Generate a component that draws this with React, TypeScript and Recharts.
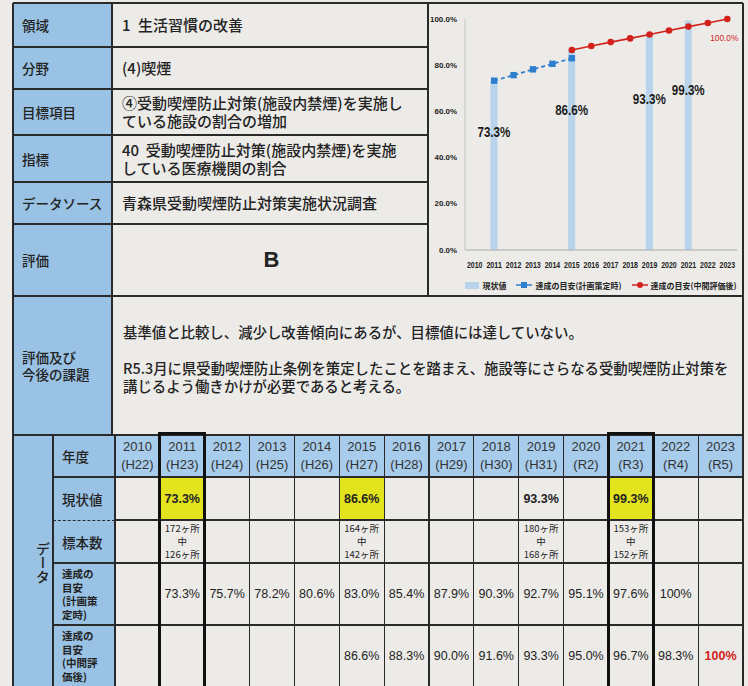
import React from "react";
import { ComposedChart, Bar, Line, XAxis, YAxis, LabelList, Legend } from "recharts";

const years = ["2010", "2011", "2012", "2013", "2014", "2015", "2016", "2017", "2018", "2019", "2020", "2021", "2022", "2023"];
const eraLabels = ["H22", "H23", "H24", "H25", "H26", "H27", "H28", "H29", "H30", "H31", "R2", "R3", "R4", "R5"];
const currentValues = [null, 73.3, null, null, null, 86.6, null, null, null, 93.3, null, 99.3, null, null];
const planTargets = [null, 73.3, 75.7, 78.2, 80.6, 83.0, 85.4, 87.9, 90.3, 92.7, 95.1, 97.6, 100, null];
const midTargets = [null, null, null, null, null, 86.6, 88.3, 90.0, 91.6, 93.3, 95.0, 96.7, 98.3, 100];
const sampleCounts = [
  null, ["172ヶ所", "中", "126ヶ所"], null, null, null, ["164ヶ所", "中", "142ヶ所"],
  null, null, null, ["180ヶ所", "中", "168ヶ所"], null, ["153ヶ所", "中", "152ヶ所"], null, null,
];
const highlightYears = ["2011", "2015", "2021"];
const boxedYears = ["2011", "2021"];
const yTicks = [0, 20, 40, 60, 80, 100];
// chart shows the plan line only until the mid-term review year
const planShownUntil = "2015";

const FONT_JP = "'Noto Sans CJK JP', 'Noto Sans', sans-serif";
const FONT_NUM = "'Liberation Sans', Arial, 'Noto Sans CJK JP', sans-serif";

const PAPER = "#ecebe8";
const LABEL_BLUE = "#99c2e4";
const HEAD_BLUE = "#a8cceb";
const YELLOW = "#e4e41e";
const INK = "#232323";
const BAR_BLUE = "#b7d4ec";
const PLAN_BLUE = "#2f7fcf";
const MID_RED = "#d3221c";

const chartData = years.map((year, i) => ({
  year,
  current: currentValues[i],
  plan: i <= years.indexOf(planShownUntil) ? planTargets[i] : null,
  mid: midTargets[i],
}));

const fmtPct = (v: number | null) => (v == null ? "" : v === 100 ? "100%" : `${v.toFixed(1)}%`);

// table geometry
const colStart = 115;
const colW = (743 - 115) / years.length;
const colX = (i: number) => colStart + i * colW;
const topRows = [3, 47, 89, 135, 182, 224, 296];
const dataRows = [435, 477, 520, 563, 625, 690];

function Box({ x, y, w, h, bg, children, style }: any) {
  return (
    <div
      style={{
        position: "absolute",
        left: x,
        top: y,
        width: w,
        height: h,
        background: bg,
        boxSizing: "border-box",
        ...style,
      }}
    >
      {children}
    </div>
  );
}

const HLine = ({ x1, x2, y, t = 2, color = "#2a2a2a", dashed = false }: any) => (
  <div
    style={{
      position: "absolute",
      left: x1,
      top: y - t / 2,
      width: x2 - x1,
      height: dashed ? 0 : t,
      background: dashed ? "transparent" : color,
      borderTop: dashed ? `${t}px dashed ${color}` : undefined,
    }}
  />
);
const VLine = ({ x, y1, y2, t = 1.5, color = "#2a2a2a" }: any) => (
  <div style={{ position: "absolute", left: x - t / 2, top: y1, width: t, height: y2 - y1, background: color }} />
);

// squeezed text to imitate the narrow font of the original chart
function NarrowText({ x, y, anchor, size, width, children, ...rest }: any) {
  return (
    <text
      x={x}
      y={y}
      textAnchor={anchor}
      fontSize={size}
      fontFamily={FONT_NUM}
      textLength={width}
      lengthAdjust="spacingAndGlyphs"
      {...rest}
    >
      {children}
    </text>
  );
}

const XTick = ({ x, y, payload }: any) => (
  <NarrowText x={x} y={y} dy="0.71em" anchor="middle" size={8.5} width={15.5} fontWeight={700} fill={INK}>
    {payload.value}
  </NarrowText>
);

const YTick = ({ x, y, payload }: any) => {
  const s = `${Number(payload.value).toFixed(1)}%`;
  return (
    <NarrowText x={x} y={y} dy="0.35em" anchor="end" size={7.5} width={s.length * 4.5} fontWeight={700} fill={INK}>
      {s}
    </NarrowText>
  );
};

function renderBarLabel(props: any) {
  const { x, y, width, height, value } = props;
  if (value == null) return null;
  return (
    <NarrowText
      x={x + width / 2}
      y={y + height * 0.3}
      dy="0.36em"
      anchor="middle"
      size={14.5}
      width={33}
      fontWeight={700}
      fill="#1c1c1c"
    >
      {`${value.toFixed(1)}%`}
    </NarrowText>
  );
}

function renderEndLabel(props: any) {
  const { x, y, value, index } = props;
  if (value == null || index !== years.length - 1) return null;
  return (
    <NarrowText x={x + 11} y={y + 22} anchor="end" size={9.5} width={28} fill={MID_RED}>
      {`${value.toFixed(1)}%`}
    </NarrowText>
  );
}

function renderSquare(props: any) {
  const { cx, cy, index } = props;
  if (cx == null || cy == null) return <g key={`sq-${index}`} />;
  return <rect key={`sq-${index}`} x={cx - 3.2} y={cy - 3.2} width={6.4} height={6.4} fill={PLAN_BLUE} />;
}

function renderLegend() {
  const txt: React.CSSProperties = { fontSize: 8, fontWeight: 700, color: INK, fontFamily: FONT_JP, marginLeft: 3 };
  return (
    <div style={{ height: 22, display: "flex", alignItems: "center", justifyContent: "center", gap: 10 }}>
      <span style={{ display: "flex", alignItems: "center" }}>
        <span style={{ width: 14, height: 7, background: BAR_BLUE, display: "inline-block" }} />
        <span style={txt}>現状値</span>
      </span>
      <span style={{ display: "flex", alignItems: "center" }}>
        <svg width={16} height={8}>
          <line x1={0} y1={4} x2={16} y2={4} stroke={PLAN_BLUE} strokeWidth={1.5} />
          <rect x={5} y={1} width={6} height={6} fill={PLAN_BLUE} />
        </svg>
        <span style={txt}>達成の目安(計画策定時)</span>
      </span>
      <span style={{ display: "flex", alignItems: "center" }}>
        <svg width={16} height={8}>
          <line x1={0} y1={4} x2={16} y2={4} stroke={MID_RED} strokeWidth={1.5} />
          <circle cx={8} cy={4} r={3} fill={MID_RED} />
        </svg>
        <span style={txt}>達成の目安(中間評価後)</span>
      </span>
    </div>
  );
}

function TrendChart() {
  return (
    <div style={{ position: "absolute", left: 427, top: 0 }}>
      <ComposedChart width={316} height={296} data={chartData} margin={{ top: 19, right: 6, bottom: 0, left: 0 }}>
        <XAxis
          dataKey="year"
          interval={0}
          tickLine={false}
          axisLine={{ stroke: "#aaaaaa" }}
          tick={<XTick />}
          height={24}
          tickMargin={6}
        />
        <XAxis xAxisId="frame" orientation="top" dataKey="year" tick={false} tickLine={false} axisLine={{ stroke: "#c4c4c4" }} height={0} />
        <YAxis domain={[0, 100]} ticks={yTicks} width={38} axisLine={{ stroke: "#c4c4c4" }} tickLine={false} tick={<YTick />} />
        <YAxis yAxisId="frame" orientation="right" domain={[0, 100]} width={0} tick={false} tickLine={false} axisLine={{ stroke: "#c4c4c4" }} />
        <Bar dataKey="current" barSize={7} fill={BAR_BLUE} isAnimationActive={false}>
          <LabelList dataKey="current" content={renderBarLabel} />
        </Bar>
        <Line
          dataKey="plan"
          stroke={PLAN_BLUE}
          strokeDasharray="4 3"
          strokeWidth={1.8}
          dot={renderSquare}
          activeDot={false}
          isAnimationActive={false}
        />
        <Line
          dataKey="mid"
          stroke={MID_RED}
          strokeWidth={1.6}
          dot={{ r: 3.3, fill: MID_RED, stroke: MID_RED, strokeWidth: 0 }}
          activeDot={false}
          isAnimationActive={false}
        >
          <LabelList dataKey="mid" content={renderEndLabel} />
        </Line>
        <Legend verticalAlign="bottom" height={22} content={renderLegend} wrapperStyle={{ left: 38, width: 272 }} />
      </ComposedChart>
    </div>
  );
}

const topLabels = ["領域", "分野", "目標項目", "指標", "データソース", "評価"];
const topContents: React.ReactNode[] = [
  "1\u2002生活習慣の改善",
  "(4)喫煙",
  <>④受動喫煙防止対策(施設内禁煙)を実施し<br />ている施設の割合の増加</>,
  <>40&nbsp;&nbsp;受動喫煙防止対策(施設内禁煙)を実施<br />している医療機関の割合</>,
  "青森県受動喫煙防止対策実施状況調査",
  null,
];

export default function App() {
  const labelText: React.CSSProperties = {
    fontFamily: FONT_JP,
    fontSize: 13.5,
    fontWeight: 500,
    color: INK,
    display: "flex",
    alignItems: "center",
    paddingLeft: 9,
    whiteSpace: "nowrap",
  };
  const contentText: React.CSSProperties = {
    fontFamily: FONT_JP,
    fontSize: 15,
    fontWeight: 500,
    color: INK,
    display: "flex",
    alignItems: "center",
    paddingLeft: 10,
    lineHeight: "18px",
    whiteSpace: "nowrap",
  };
  const numText: React.CSSProperties = {
    fontFamily: FONT_NUM,
    fontSize: 12.5,
    color: INK,
    display: "flex",
    alignItems: "center",
    justifyContent: "center",
    textAlign: "center",
  };
  const smallLabel: React.CSSProperties = {
    fontFamily: FONT_JP,
    fontSize: 10.5,
    fontWeight: 700,
    color: INK,
    lineHeight: "13.5px",
    display: "flex",
    alignItems: "center",
    paddingLeft: 9,
  };

  return (
    <div style={{ position: "absolute", left: 0, top: 0, width: 748, height: 686, background: PAPER, overflow: "hidden" }}>
      {/* top section */}
      {topLabels.map((lab, i) => (
        <React.Fragment key={lab}>
          <Box x={13} y={topRows[i]} w={99} h={topRows[i + 1] - topRows[i]} bg={LABEL_BLUE} style={labelText}>
            {lab}
          </Box>
          <Box x={112} y={topRows[i]} w={315} h={topRows[i + 1] - topRows[i]} style={contentText}>
            {topContents[i]}
          </Box>
        </React.Fragment>
      ))}
      <Box
        x={112}
        y={224}
        w={315}
        h={72}
        style={{ display: "flex", alignItems: "center", justifyContent: "center", fontFamily: FONT_NUM, fontWeight: 700, fontSize: 22, color: INK, paddingLeft: 4 }}
      >
        B
      </Box>
      <TrendChart />

      {/* evaluation section */}
      <Box x={13} y={296} w={99} h={139} bg={LABEL_BLUE} style={{ ...labelText, lineHeight: "17px" }}>
        評価及び<br />今後の課題
      </Box>
      <Box x={112} y={296} w={631} h={139} style={{ fontFamily: FONT_JP, fontSize: 14.4, fontWeight: 500, color: INK, whiteSpace: "nowrap" }}>
        <div style={{ position: "absolute", top: 25, left: 11 }}>基準値と比較し、減少し改善傾向にあるが、目標値には達していない。</div>
        <div style={{ position: "absolute", top: 63, left: 11, lineHeight: "18px" }}>
          R5.3月に県受動喫煙防止条例を策定したことを踏まえ、施設等にさらなる受動喫煙防止対策を
          <br />
          講じるよう働きかけが必要であると考える。
        </div>
      </Box>

      {/* data table */}
      <Box x={13} y={435} w={40} h={255} bg={LABEL_BLUE} />
      <div
        style={{
          position: "absolute",
          left: 13,
          top: 542,
          width: 40,
          display: "flex",
          justifyContent: "center",
          fontFamily: FONT_JP,
          fontSize: 14,
          fontWeight: 500,
          color: INK,
          writingMode: "vertical-rl",
        }}
      >
        データ
      </div>
      <Box x={53} y={435} w={62} h={255} bg={LABEL_BLUE} />
      <Box x={53} y={dataRows[0]} w={62} h={42} style={labelText}>年度</Box>
      <Box x={53} y={dataRows[1]} w={62} h={43} style={labelText}>現状値</Box>
      <Box x={53} y={dataRows[2]} w={62} h={43} style={labelText}>標本数</Box>
      <Box x={53} y={dataRows[3]} w={62} h={62} style={smallLabel}>
        <div>達成の<br />目安<br />(計画策<br />定時)</div>
      </Box>
      <Box x={53} y={dataRows[4]} w={62} h={62} style={smallLabel}>
        <div>達成の<br />目安<br />(中間評<br />価後)</div>
      </Box>

      {years.map((year, i) => (
        <React.Fragment key={year}>
          <Box x={colX(i)} y={dataRows[0]} w={colW} h={42} bg={HEAD_BLUE} style={{ ...numText, fontSize: 13, lineHeight: "18px", color: "#333" }}>
            <div>{year}<br />({eraLabels[i]})</div>
          </Box>
          <Box
            x={colX(i)}
            y={dataRows[1]}
            w={colW}
            h={43}
            bg={highlightYears.includes(year) ? YELLOW : undefined}
            style={{ ...numText, fontWeight: 700 }}
          >
            {fmtPct(currentValues[i])}
          </Box>
          <Box x={colX(i)} y={dataRows[2]} w={colW} h={43} style={{ ...numText, fontFamily: FONT_JP, fontSize: 9.5, lineHeight: "13px" }}>
            {sampleCounts[i] && (
              <div>
                {sampleCounts[i]!.map((s, k) => (
                  <div key={k}>{s}</div>
                ))}
              </div>
            )}
          </Box>
          <Box x={colX(i)} y={dataRows[3]} w={colW} h={62} style={numText}>
            {fmtPct(planTargets[i])}
          </Box>
          <Box
            x={colX(i)}
            y={dataRows[4]}
            w={colW}
            h={62}
            style={{ ...numText, color: midTargets[i] === 100 ? MID_RED : INK, fontWeight: midTargets[i] === 100 ? 700 : 400 }}
          >
            {fmtPct(midTargets[i])}
          </Box>
        </React.Fragment>
      ))}

      {/* grid lines */}
      <HLine x1={13} x2={743} y={3} t={2} />
      {topRows.slice(1, -1).map((y) => (
        <HLine key={y} x1={13} x2={428} y={y} t={2} />
      ))}
      <HLine x1={13} x2={743} y={296} t={2} />
      <HLine x1={13} x2={743} y={435} t={2} />
      <HLine x1={53} x2={743} y={dataRows[1]} t={1.5} />
      <HLine x1={53} x2={115} y={dataRows[2]} t={1} dashed />
      <HLine x1={115} x2={743} y={dataRows[2]} t={1.5} />
      <HLine x1={53} x2={743} y={dataRows[3]} t={1.5} />
      <HLine x1={53} x2={743} y={dataRows[4]} t={1.5} />
      <VLine x={13} y1={3} y2={686} t={1.5} />
      <VLine x={112} y1={3} y2={435} t={1.5} />
      <VLine x={428} y1={3} y2={296} t={1.5} />
      <VLine x={743} y1={3} y2={686} t={1.5} />
      <VLine x={53} y1={435} y2={686} t={1.5} />
      <VLine x={115} y1={435} y2={686} t={1.5} />
      {years.slice(1).map((y, i) => (
        <VLine key={y} x={colX(i + 1)} y1={435} y2={686} t={1.2} />
      ))}
      {boxedYears.map((y) => {
        const i = years.indexOf(y);
        return (
          <div
            key={y}
            style={{
              position: "absolute",
              left: colX(i) - 1.5,
              top: 432,
              width: colW + 3,
              height: 270,
              border: "3px solid #111",
              boxSizing: "border-box",
            }}
          />
        );
      })}
    </div>
  );
}
